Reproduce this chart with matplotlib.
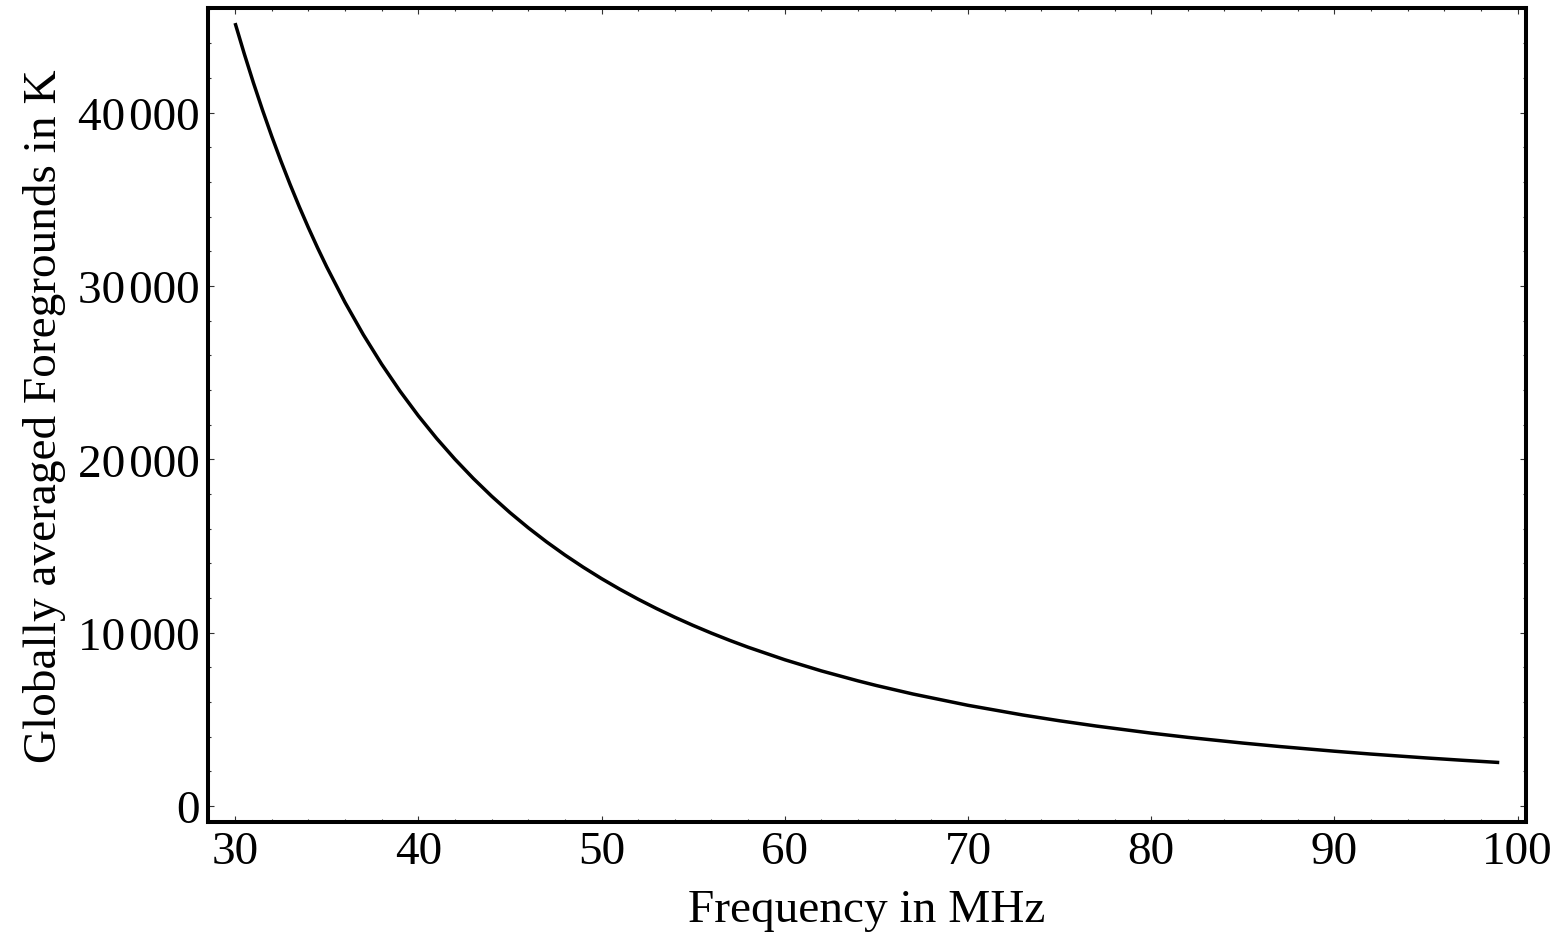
import numpy as np
import matplotlib.pyplot as plt
from matplotlib.ticker import MultipleLocator, FuncFormatter

# values
freq = [30, 30.5, 31, 31.5, 32, 32.5, 33, 33.5, 34, 34.5, 35, 36, 37, 38, 39,
        40, 41, 42, 43, 44, 45, 46, 47, 48, 49, 50, 51, 52, 53, 54, 55, 56,
        57, 58, 60, 62, 64, 65, 67, 70, 73, 75, 77, 80, 82, 85, 87, 90, 92,
        95, 97, 99]
temp = [45170, 43399, 41724, 40140, 38638, 37216, 35866, 34584, 33367, 32208,
        31106, 29056, 27192, 25492, 23939, 22516, 21210, 20009, 18901, 17878,
        16931, 16055, 15241, 14484, 13780, 13121, 12507, 11933, 11394, 10892,
        10419, 9975, 9557, 9163, 8441, 7797, 7221, 6954, 6463, 5812, 5251,
        4919, 4616, 4207, 3963, 3634, 3435, 3164, 2999, 2776, 2640, 2512]

plt.rcParams['font.family'] = ['Liberation Serif', 'DejaVu Serif']

fig = plt.figure(figsize=(15.63, 9.37), dpi=100)
ax = fig.add_axes([0.1333, 0.1213, 0.9761 - 0.1333, 0.9907 - 0.1213])

ax.plot(freq, temp, color='black', lw=2.5, solid_joinstyle='round',
        solid_capstyle='butt')

ax.set_xlim(28.54, 100.44)
ax.set_ylim(-940, 46056)

ax.xaxis.set_major_locator(MultipleLocator(10))
ax.xaxis.set_minor_locator(MultipleLocator(2))
ax.yaxis.set_major_locator(MultipleLocator(10000))
ax.yaxis.set_minor_locator(MultipleLocator(2000))


def thousands(v, pos):
    v = int(round(v))
    if abs(v) >= 10000:
        return '%d\u200a%03d' % (v // 1000, v % 1000)
    return str(v)


ax.yaxis.set_major_formatter(FuncFormatter(thousands))

ax.tick_params(which='both', direction='in', top=True, right=True,
               labelsize=34, width=0.8, color='#333333')
ax.tick_params(which='major', length=4.5, pad=6)
ax.tick_params(which='minor', length=2.5)

for s in ax.spines.values():
    s.set_linewidth(2.9)

ax.set_xlabel("Frequency in MHz", fontsize=34, labelpad=11)
ax.set_ylabel("Globally averaged Foregrounds in K", fontsize=34, labelpad=9)

fig.savefig("out.png", dpi=100)
